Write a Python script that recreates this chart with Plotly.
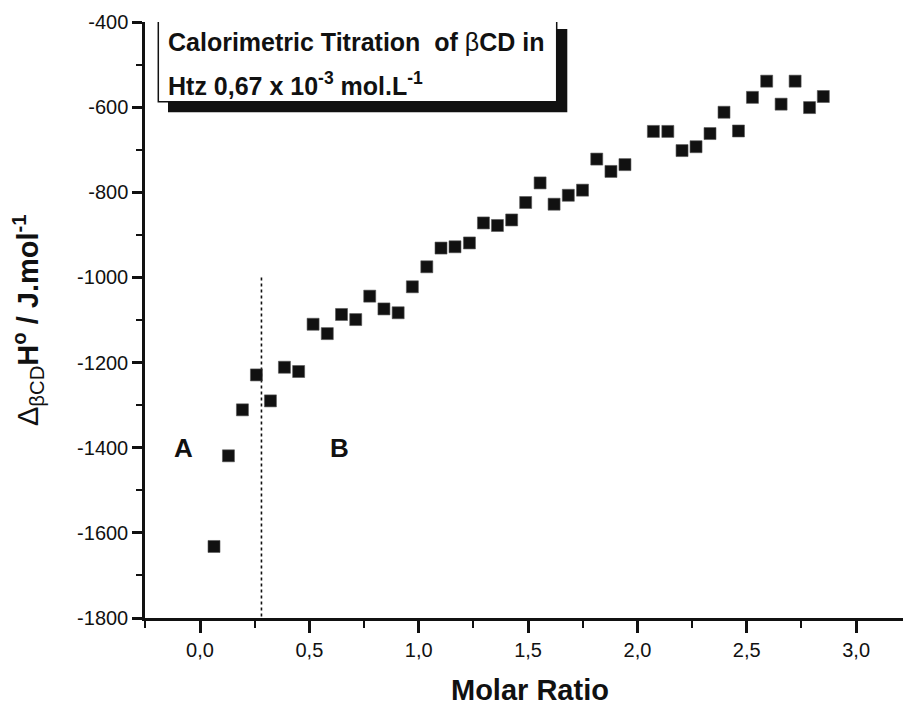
import plotly.graph_objects as go

# ---- data ----
molar_ratio = [0.064, 0.130, 0.194, 0.258, 0.322, 0.386, 0.451, 0.517, 0.582, 0.647,
               0.712, 0.776, 0.841, 0.906, 0.971, 1.037, 1.102, 1.166, 1.232, 1.296,
               1.360, 1.425, 1.489, 1.555, 1.619, 1.684, 1.749, 1.814, 1.879, 1.943,
               2.073, 2.139, 2.204, 2.268, 2.332, 2.396, 2.462, 2.526, 2.591, 2.657,
               2.721, 2.787, 2.850]
delta_h = [-1632, -1419, -1311, -1229, -1290, -1211, -1221, -1110, -1132, -1087,
           -1099, -1044, -1074, -1083, -1022, -975, -931, -928, -919, -872,
           -878, -865, -824, -778, -828, -807, -795, -722, -751, -735,
           -657, -657, -702, -693, -662, -612, -656, -577, -539, -593,
           -539, -601, -575]

divider_x = [0.281, 0.281]
divider_y = [-1000, -1800]

x_tickvals = [0.0, 0.5, 1.0, 1.5, 2.0, 2.5, 3.0]
x_ticktext = ["0,0", "0,5", "1,0", "1,5", "2,0", "2,5", "3,0"]
y_tickvals = [-400, -600, -800, -1000, -1200, -1400, -1600, -1800]
y_ticktext = ["-400", "-600", "-800", "-1000", "-1200", "-1400", "-1600", "-1800"]

region_labels = ["A", "B"]
region_x = [-0.077, 0.639]
region_y = [-1400, -1400]

W, H = 903, 709
L, R, T, B = 145, 0, 22, 91
XR = [-0.2515, 3.2143]
YR = [-1800, -400]
pw, ph = W - L - R, H - T - B


def dx(px):
    return XR[0] + (px - L) / pw * (XR[1] - XR[0])


def dy(py):
    return YR[1] - (py - T) / ph * (YR[1] - YR[0])


FONT = "Liberation Sans, Arial, Helvetica, sans-serif"
INK = "#111111"

fig = go.Figure()
fig.add_trace(go.Scatter(
    x=divider_x, y=divider_y, mode="lines",
    line=dict(color=INK, width=1.6, dash="dot"),
    hoverinfo="skip", showlegend=False))
fig.add_trace(go.Scatter(
    x=molar_ratio, y=delta_h, mode="markers",
    marker=dict(symbol="square", size=12, color=INK,
                line=dict(color="#555555", width=0.6)),
    showlegend=False))

shapes = [
    dict(type="rect", xref="x", yref="y", x0=dx(168), x1=dx(567.3), y0=dy(29), y1=dy(112.3),
         fillcolor=INK, line=dict(width=0), layer="above"),
    dict(type="rect", xref="x", yref="y", x0=dx(158.3), x1=dx(556.7), y0=dy(20), y1=dy(101.7),
         fillcolor="white", line=dict(color=INK, width=1.5), layer="above"),
]

annotations = [
    dict(xref="x", yref="y", x=dx(166), y=dy(42), xanchor="left", yanchor="middle",
         text="<b>Calorimetric Titration \u00a0of </b>\u03b2<b>CD in</b>", showarrow=False,
         font=dict(family=FONT, size=25, color=INK)),
    dict(xref="x", yref="y", x=dx(166), y=dy(84), xanchor="left", yanchor="middle",
         text="<b>Htz 0,67 x 10<sup>-3</sup> mol.L<sup>-1</sup></b>", showarrow=False,
         font=dict(family=FONT, size=25, color=INK)),
    dict(xref="paper", yref="paper", x=(530 - L) / pw, y=(H - B - 690) / ph,
         xanchor="center", yanchor="middle", text="<b>Molar Ratio</b>", showarrow=False,
         font=dict(family=FONT, size=29, color=INK)),
    dict(xref="paper", yref="paper", x=(28 - L) / pw, y=0.5, xanchor="center", yanchor="middle",
         textangle=-90, showarrow=False,
         text="\u0394<sub>\u03b2CD</sub><b>H<sup>o</sup> / J.mol<sup>-1</sup></b>",
         font=dict(family=FONT, size=29, color=INK)),
]
for lab, xv, yv in zip(region_labels, region_x, region_y):
    annotations.append(dict(xref="x", yref="y", x=xv, y=yv, text="<b>" + lab + "</b>",
                            showarrow=False, xanchor="center", yanchor="middle",
                            font=dict(family=FONT, size=26, color=INK)))

fig.update_layout(
    width=W, height=H, margin=dict(l=L, r=R, t=T, b=B, pad=0),
    paper_bgcolor="white", plot_bgcolor="white",
    font=dict(family=FONT, color=INK),
    shapes=shapes, annotations=annotations,
    xaxis=dict(range=XR, showgrid=False, zeroline=False, showline=True, linecolor=INK,
               linewidth=2.5, ticks="outside", ticklen=12, tickwidth=2.5, tickcolor=INK,
               tickvals=x_tickvals, ticktext=x_ticktext,
               tickfont=dict(family=FONT, size=20, color=INK),
               minor=dict(dtick=0.25, tick0=-0.25, ticks="outside", ticklen=7, tickwidth=2,
                          tickcolor=INK, showgrid=False)),
    yaxis=dict(range=YR, showgrid=False, zeroline=False, showline=True, linecolor=INK,
               linewidth=2.5, ticks="outside", ticklen=10, tickwidth=2.5, tickcolor=INK,
               tickvals=y_tickvals, ticktext=y_ticktext,
               tickfont=dict(family=FONT, size=20, color=INK),
               minor=dict(dtick=100, tick0=-400, ticks="outside", ticklen=6, tickwidth=2,
                          tickcolor=INK, showgrid=False)),
)

fig.write_html("out.html")
